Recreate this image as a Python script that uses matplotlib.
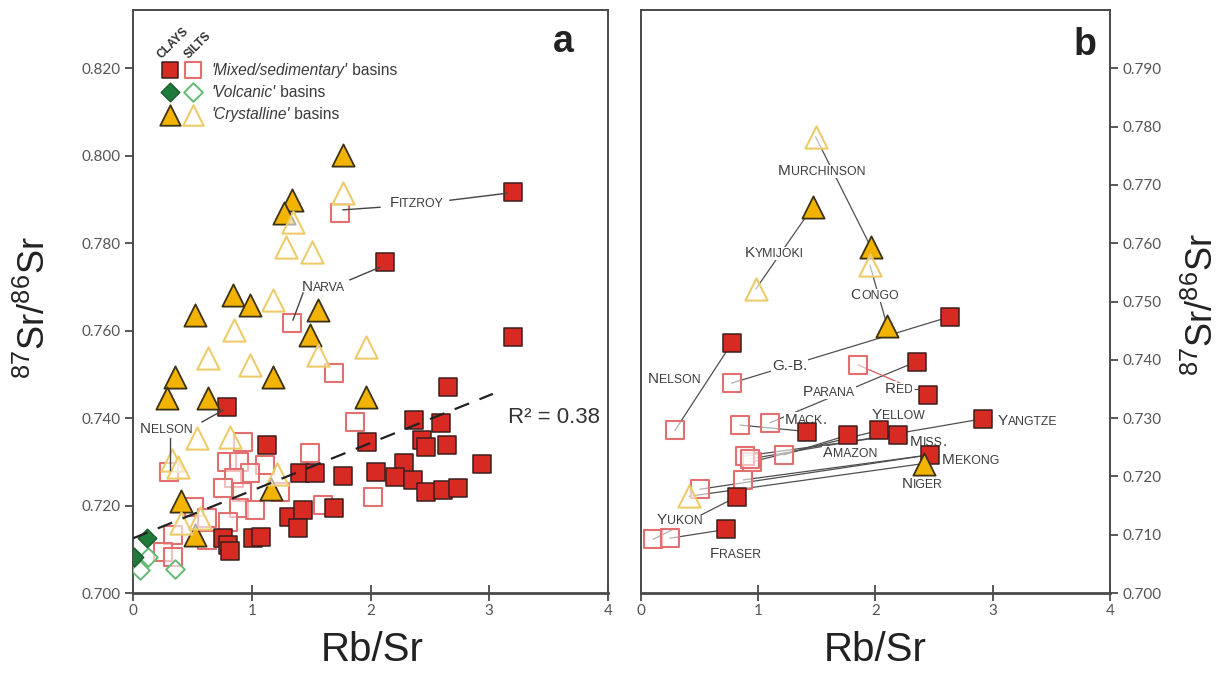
import matplotlib
matplotlib.use("Agg")
import matplotlib.pyplot as plt
import numpy as np

plt.rcParams['mathtext.fontset'] = 'custom'
plt.rcParams['mathtext.rm'] = 'Liberation Sans'
plt.rcParams['mathtext.it'] = 'Liberation Sans:italic'

# ---------------- panel a data ----------------
a_clay_mixed_x = [3.20, 2.12, 3.20, 2.65, 0.79, 2.37, 2.59, 1.97, 2.43, 2.47, 2.64, 1.13, 2.94, 2.28,
                  1.41, 1.53, 1.77, 2.05, 2.21, 2.36, 2.47, 2.61, 2.74, 1.31, 1.43, 1.39, 1.69,
                  0.76, 0.80, 0.82, 1.01, 1.08]
a_clay_mixed_y = [0.7917, 0.7757, 0.7586, 0.7472, 0.7426, 0.7395, 0.7388, 0.7346, 0.7350, 0.7334, 0.7338,
                  0.7338, 0.7296, 0.7297, 0.7274, 0.7274, 0.7268, 0.7277, 0.7266, 0.7258, 0.7232, 0.7235,
                  0.7239, 0.7174, 0.7190, 0.7148, 0.7194, 0.7125, 0.7110, 0.7095, 0.7125, 0.7129]
a_silt_mixed_x = [1.74, 1.34, 1.69, 1.87, 0.93, 1.49, 0.79, 0.89, 1.11, 0.30, 0.985, 0.85, 0.76, 0.92,
                  1.24, 2.02, 0.51, 0.89, 1.03, 1.60, 0.62, 0.80, 0.34, 0.62, 0.255, 0.34]
a_silt_mixed_y = [0.7869, 0.7618, 0.7502, 0.7392, 0.7346, 0.7319, 0.7300, 0.7300, 0.7293, 0.7277, 0.7274,
                  0.7262, 0.7239, 0.7232, 0.7232, 0.7220, 0.7197, 0.7194, 0.7190, 0.7201, 0.7171, 0.7163,
                  0.7132, 0.7121, 0.7094, 0.7083]
a_clay_cryst_x = [1.765, 1.34, 1.27, 0.845, 0.985, 1.56, 0.52, 1.49, 1.18, 0.35, 0.29, 0.63, 1.96,
                  0.40, 0.52, 1.16]
a_clay_cryst_y = [0.8001, 0.7898, 0.7869, 0.7681, 0.7658, 0.7647, 0.7636, 0.7590, 0.7494, 0.7494, 0.7445,
                  0.7445, 0.7449, 0.7211, 0.7133, 0.7237]
a_silt_cryst_x = [1.77, 1.35, 1.29, 1.505, 1.18, 0.85, 1.56, 1.96, 0.63, 0.985, 0.54, 0.82, 0.33,
                  0.38, 1.21, 0.40, 0.56]
a_silt_cryst_y = [0.7914, 0.7848, 0.7792, 0.7780, 0.7670, 0.7601, 0.7544, 0.7563, 0.7537, 0.7521, 0.7354,
                  0.7357, 0.7304, 0.7289, 0.7272, 0.7159, 0.7171]
a_clay_volc_x = [0.12, 0.01]
a_clay_volc_y = [0.7125, 0.7083]
a_silt_volc_x = [0.13, 0.06, 0.35]
a_silt_volc_y = [0.7083, 0.7053, 0.7056]

reg_intercept = 0.7125
reg_slope = 0.0109
reg_xmax = 3.03
r2_text = "R\u00b2 = 0.38"

a_label_text = ["Fitzroy", "Narva", "Nelson"]
a_label_x = [2.164, 1.423, 0.059]
a_label_y = [0.7894, 0.7704, 0.7379]
a_leader_x0 = [2.669, 2.08, 1.827, 1.432, 0.581, 0.312]
a_leader_y0 = [0.7898, 0.7882, 0.7716, 0.7686, 0.7391, 0.7354]
a_leader_x1 = [3.149, 1.768, 2.08, 1.347, 0.758, 0.312]
a_leader_y1 = [0.7914, 0.7876, 0.7745, 0.7624, 0.7418, 0.7281]

# ---------------- panel b data ----------------
b_clay_sq_name = ["Nelson", "G.-B.", "Parana", "Red", "Mack.", "Amazon", "Yellow", "Miss.",
                  "Yangtze", "Mekong", "Yukon", "Fraser"]
b_clay_sq_x = [0.773, 2.635, 2.351, 2.45, 1.413, 1.768, 2.033, 2.195, 2.92, 2.465, 0.816, 0.725]
b_clay_sq_y = [0.7428, 0.7474, 0.7397, 0.7339, 0.7277, 0.7271, 0.7279, 0.7271, 0.7299, 0.7237,
               0.7165, 0.7109]
b_silt_sq_name = ["Nelson", "G.-B.", "Parana", "Red", "Mack.", "Amazon", "Yellow", "Miss.",
                  "Yangtze", "Mekong", "Yukon", "Fraser", "Mekong-b"]
b_silt_sq_x = [0.29, 0.773, 1.10, 1.853, 0.845, 1.22, 0.944, 0.887, 0.93, 0.503, 0.105, 0.247, 0.873]
b_silt_sq_y = [0.7279, 0.7360, 0.7292, 0.7391, 0.7288, 0.7237, 0.7225, 0.7235, 0.7230, 0.7178,
               0.7092, 0.7094, 0.7194]
b_clay_tri_name = ["Murchinson", "Kymijoki", "Congo", "Niger"]
b_clay_tri_x = [1.959, 1.464, 2.10, 2.41]
b_clay_tri_y = [0.7594, 0.7662, 0.7458, 0.7222]
b_silt_tri_name = ["Murchinson", "Kymijoki", "Congo", "Niger"]
b_silt_tri_x = [1.49, 0.981, 1.953, 0.412]
b_silt_tri_y = [0.7782, 0.7522, 0.7562, 0.7166]
b_links = [("Nelson", "Nelson"), ("G.-B.", "G.-B."), ("Parana", "Parana"), ("Red", "Red"),
           ("Mack.", "Mack."), ("Amazon", "Amazon"), ("Yellow", "Yellow"), ("Miss.", "Miss."),
           ("Yangtze", "Yangtze"), ("Mekong", "Mekong"), ("Mekong-b", "Mekong"), ("Yukon", "Yukon"),
           ("Fraser", "Fraser"), ("Murchinson", "Murchinson"), ("Kymijoki", "Kymijoki"),
           ("Congo", "Congo"), ("Niger", "Niger")]

b_label_text = ["Murchinson", "Kymijoki", "Congo", "G.-B.", "Nelson", "Red-", "Parana", "Mack.",
                "Yellow", "Miss.", "Yangtze", "Amazon", "Mekong", "Niger", "Yukon", "Fraser"]
b_label_x = [1.168, 0.887, 1.782, 1.117, 0.06, 2.081, 1.382, 1.228, 1.97, 2.294, 3.045, 1.552,
             2.567, 2.226, 0.136, 0.588]
b_label_y = [0.7727, 0.7586, 0.7514, 0.7391, 0.7370, 0.7353, 0.7348, 0.7300, 0.7307, 0.7262,
             0.7298, 0.7242, 0.7230, 0.7189, 0.7127, 0.7069]

a_yticks = [0.700, 0.720, 0.740, 0.760, 0.780, 0.800, 0.820]
b_yticks = [0.700, 0.710, 0.720, 0.730, 0.740, 0.750, 0.760, 0.770, 0.780, 0.790]
xticks = [0, 1, 2, 3, 4]

# ---------------- styles ----------------
STY = {
    'silt_mixed': dict(marker='s', s=12.3**2, facecolor=(1, 1, 1, 0.55), edgecolor='#E46F70', linewidths=1.5, zorder=4),
    'clay_mixed': dict(marker='s', s=12.3**2, facecolor='#D62A22', edgecolor='#3B1E1E', linewidths=1.1, zorder=5),
    'clay_cryst': dict(marker='^', s=16**2, facecolor='#F2B400', edgecolor='#3D3214', linewidths=1.3, zorder=6),
    'silt_cryst': dict(marker='^', s=16**2, facecolor=(1, 1, 1, 0.6), edgecolor='#EDCB6A', linewidths=1.5, zorder=7),
    'silt_volc': dict(marker='D', s=9.5**2, facecolor=(1, 1, 1, 0.6), edgecolor='#63BB74', linewidths=1.4, zorder=8),
    'clay_volc': dict(marker='D', s=9.5**2, facecolor='#1F7B3C', edgecolor='#1D5A2C', linewidths=1.0, zorder=9),
}
LABEL_COLOR = '#3C3C3C'
SPINE = '#4A4A4A'
TICKC = '#555555'


def smallcaps(ax, x, y, word, big=11, small=8.8, color=LABEL_COLOR, mask=False, z=3):
    runs = []
    for ch in word:
        sm = ch.islower()
        if runs and runs[-1][1] == sm:
            runs[-1][0] += ch.upper()
        else:
            runs.append([ch.upper(), sm])
    prev = None
    bb = dict(boxstyle='square,pad=0.05', fc='white', ec='none') if mask else None
    for txt, sm in runs:
        kw = dict(fontsize=small if sm else big, color=color, va='baseline', ha='left',
                  family='Liberation Sans', zorder=z, bbox=bb, annotation_clip=False,
                  xytext=(0, -3.9), textcoords='offset points')
        if prev is None:
            t = ax.annotate(txt, xy=(x, y), xycoords='data', **kw)
        else:
            t = ax.annotate(txt, xy=(1, y), xycoords=(prev, 'data'), **kw)
        prev = t


def style_axes(ax, yticks, right=False):
    ax.set_xlim(0, 4)
    ax.set_xticks(xticks)
    ax.set_xticklabels([str(v) for v in xticks])
    ax.set_yticks(yticks)
    ax.set_yticklabels(['%.3f' % v for v in yticks])
    for s in ax.spines.values():
        s.set_color(SPINE)
        s.set_linewidth(1.4)
    ax.spines['bottom'].set_linewidth(2.0)
    ax.tick_params(axis='x', direction='inout', length=12, width=1.3, color=SPINE,
                   labelsize=11, labelcolor=TICKC, pad=2)
    if right:
        ax.yaxis.tick_right()
    ax.tick_params(axis='y', direction='out', length=6, width=1.3, color=SPINE,
                   labelsize=11, labelcolor=TICKC, pad=3)
    for lab in ax.get_xticklabels() + ax.get_yticklabels():
        lab.set_family('Lato')


fig = plt.figure(figsize=(12.29, 6.79), dpi=100)
axa = fig.add_axes([133 / 1229, 1 - 593 / 679, 475 / 1229, 583 / 679])
axb = fig.add_axes([641 / 1229, 1 - 593 / 679, 469 / 1229, 583 / 679])

# ---------------- panel a ----------------
axa.set_ylim(0.700, 0.8333)
style_axes(axa, a_yticks)
axa.scatter(a_silt_mixed_x, a_silt_mixed_y, **STY['silt_mixed'])
axa.scatter(a_clay_mixed_x, a_clay_mixed_y, **STY['clay_mixed'])
axa.scatter(a_clay_cryst_x, a_clay_cryst_y, **STY['clay_cryst'])
axa.scatter(a_silt_cryst_x, a_silt_cryst_y, **STY['silt_cryst'])
axa.scatter(a_silt_volc_x, a_silt_volc_y, **STY['silt_volc'])
axa.scatter(a_clay_volc_x, a_clay_volc_y, **STY['clay_volc'])

rx = np.array([0, reg_xmax])
axa.plot(rx, reg_intercept + reg_slope * rx, color='#222222', lw=1.6, dashes=(7, 5), zorder=10)
axa.text(3.158, 0.7402, r2_text, fontsize=16, family='Liberation Sans', color='#333333',
         va='center', ha='left', zorder=11)

for x0, y0, x1, y1 in zip(a_leader_x0, a_leader_y0, a_leader_x1, a_leader_y1):
    axa.plot([x0, x1], [y0, y1], color='#444444', lw=1.0, zorder=10)
for t, x, y in zip(a_label_text, a_label_x, a_label_y):
    smallcaps(axa, x, y, t, z=11)

axa.text(0.905, 0.945, 'a', transform=axa.transAxes, fontsize=27, fontweight='bold',
         family='Liberation Sans', color='#222222', ha='center', va='center')

# legend
ta = axa.transAxes
lx1, lx2, ltx = 0.078, 0.126, 0.166
rows = [0.897, 0.859, 0.820]
leg = [('clay_mixed', 'silt_mixed', "'Mixed/sedimentary'"),
       ('clay_volc', 'silt_volc', "'Volcanic'"),
       ('clay_cryst', 'silt_cryst', "'Crystalline'")]
for (k1, k2, txt), ry in zip(leg, rows):
    for k, lx in ((k1, lx1), (k2, lx2)):
        st = dict(STY[k])
        st['s'] = st['s'] * (1.0 if k.endswith('volc') else 0.85)
        st['zorder'] = 12
        axa.scatter([lx], [ry], transform=ta, clip_on=False, **st)
    t1 = axa.annotate(txt, xy=(ltx, ry), xycoords='axes fraction', fontsize=11.2,
                      style='italic', family='Liberation Sans', color='#3A3A3A',
                      va='center', ha='left')
    axa.annotate(' basins', xy=(1, 0.5), xycoords=t1, fontsize=11.2,
                 family='Liberation Sans', color='#3A3A3A', va='center', ha='left')
axa.text(0.060, 0.916, 'CLAYS', transform=ta, rotation=45, rotation_mode='anchor',
         fontsize=8.5, fontweight='bold', family='Liberation Sans', color='#333333',
         ha='left', va='baseline')
axa.text(0.117, 0.916, 'SILTS', transform=ta, rotation=45, rotation_mode='anchor',
         fontsize=8.5, fontweight='bold', family='Liberation Sans', color='#333333',
         ha='left', va='baseline')

# ---------------- panel b ----------------
axb.set_ylim(0.700, 0.800)
style_axes(axb, b_yticks, right=True)

pos = {}
for n, x, y in zip(b_silt_sq_name, b_silt_sq_x, b_silt_sq_y):
    pos[('silt', n)] = (x, y)
for n, x, y in zip(b_silt_tri_name, b_silt_tri_x, b_silt_tri_y):
    pos[('silt', n)] = (x, y)
for n, x, y in zip(b_clay_sq_name, b_clay_sq_x, b_clay_sq_y):
    pos[('clay', n)] = (x, y)
for n, x, y in zip(b_clay_tri_name, b_clay_tri_x, b_clay_tri_y):
    pos[('clay', n)] = (x, y)
for s, c in b_links:
    (x0, y0), (x1, y1) = pos[('silt', s)], pos[('clay', c)]
    col = '#D65A5A' if s == 'Red' else '#505050'
    axb.plot([x0, x1], [y0, y1], color=col, lw=0.9, zorder=1)

axb.scatter(b_silt_sq_x, b_silt_sq_y, **STY['silt_mixed'])
axb.scatter(b_clay_sq_x, b_clay_sq_y, **STY['clay_mixed'])
axb.scatter(b_clay_tri_x, b_clay_tri_y, **STY['clay_cryst'])
axb.scatter(b_silt_tri_x, b_silt_tri_y, **STY['silt_cryst'])

for t, x, y in zip(b_label_text, b_label_x, b_label_y):
    smallcaps(axb, x, y, t, mask=True, z=3)

axb.text(0.947, 0.94, 'b', transform=axb.transAxes, fontsize=27, fontweight='bold',
         family='Liberation Sans', color='#222222', ha='center', va='center')

# ---------------- axis titles ----------------
ylab = r'$\mathregular{^{87}Sr/^{86}Sr}$'
fig.text(35 / 1229, 1 - 308 / 679, ylab, rotation=90, fontsize=26, ha='center', va='center',
         family='Liberation Sans', color='#222222')
fig.text(1203 / 1229, 1 - 305 / 679, ylab, rotation=90, fontsize=26, ha='center', va='center',
         family='Liberation Sans', color='#222222')
fig.text(372 / 1229, 1 - 650 / 679, 'Rb/Sr', fontsize=29, ha='center', va='center',
         family='Liberation Sans', color='#222222')
fig.text(875 / 1229, 1 - 650 / 679, 'Rb/Sr', fontsize=29, ha='center', va='center',
         family='Liberation Sans', color='#222222')

fig.savefig('out.png', dpi=100, facecolor='white')
